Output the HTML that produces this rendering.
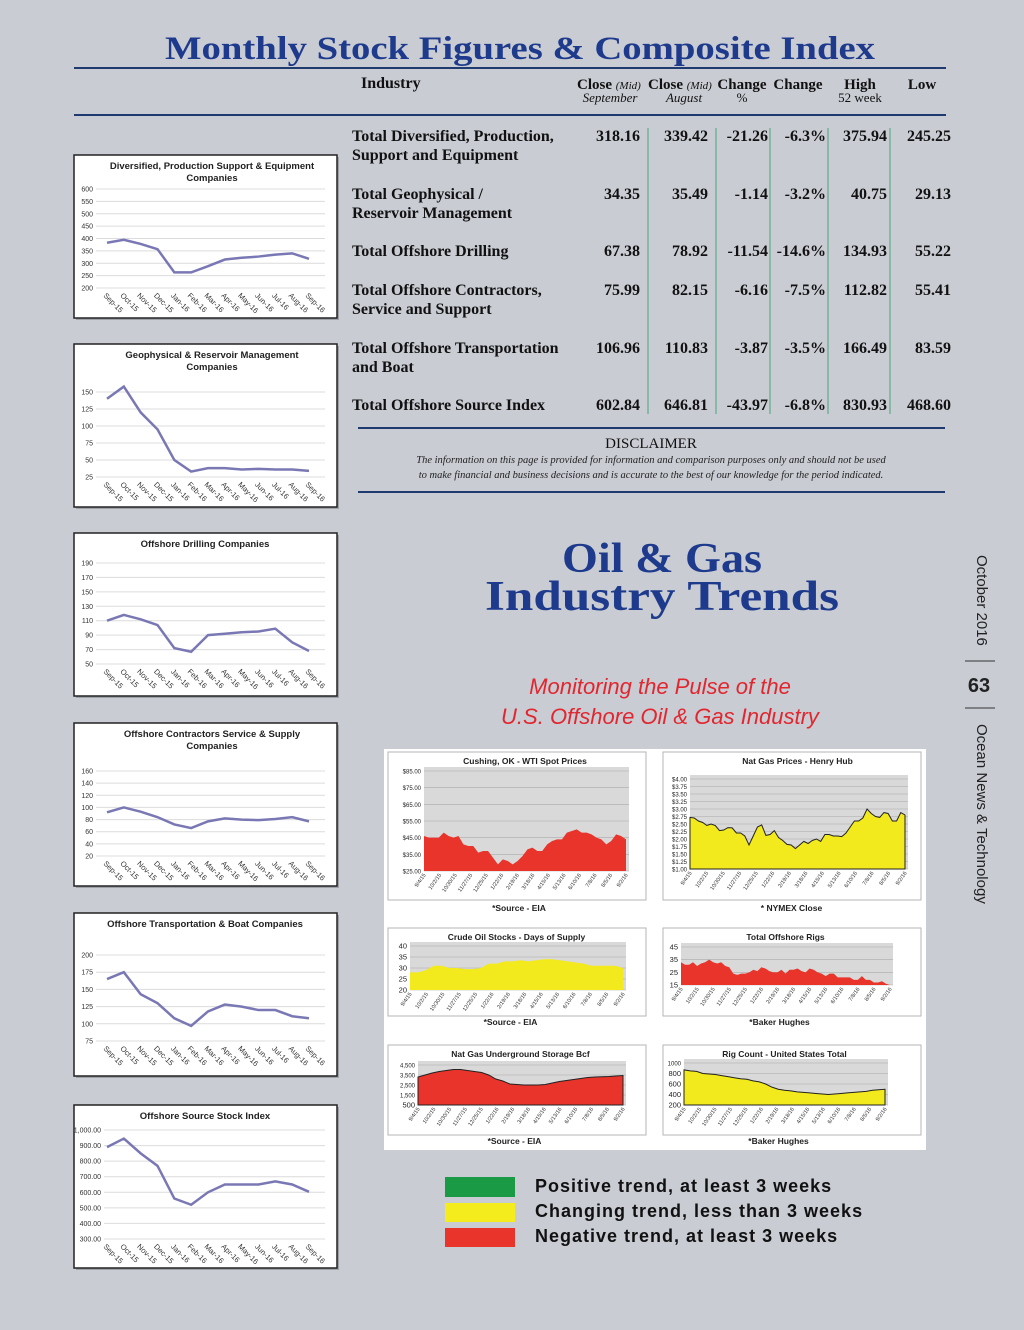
<!DOCTYPE html>
<html><head><meta charset="utf-8"><style>
body{margin:0;background:#c9ccd3;}
svg{display:block;font-family:"Liberation Sans",sans-serif;}
.serif{font-family:"Liberation Serif",serif;}
</style></head><body>
<svg id="page" width="1024" height="1330" viewBox="0 0 1024 1330" xmlns="http://www.w3.org/2000/svg">
<rect width="1024" height="1330" fill="#c9ccd3"/>
<text class="serif" x="520" y="59" text-anchor="middle" font-size="33" font-weight="bold" fill="#1e3a8c" textLength="710" lengthAdjust="spacingAndGlyphs">Monthly Stock Figures &amp; Composite Index</text>
<line x1="74" y1="68" x2="946" y2="68" stroke="#1e3a6e" stroke-width="2"/>
<line x1="74" y1="115" x2="946" y2="115" stroke="#1e3a6e" stroke-width="2"/>
<g class="serif" fill="#111">
<text x="361" y="88" font-size="16" font-weight="bold">Industry</text>
<text x="577" y="89" font-size="15" font-weight="bold">Close <tspan font-size="11" font-style="italic" font-weight="normal">(Mid)</tspan></text>
<text x="610" y="102" font-size="13" font-style="italic" text-anchor="middle">September</text>
<text x="648" y="89" font-size="15" font-weight="bold">Close <tspan font-size="11" font-style="italic" font-weight="normal">(Mid)</tspan></text>
<text x="684" y="102" font-size="13" font-style="italic" text-anchor="middle">August</text>
<text x="742" y="89" font-size="15" font-weight="bold" text-anchor="middle">Change</text>
<text x="742" y="102" font-size="13" text-anchor="middle">%</text>
<text x="798" y="89" font-size="15" font-weight="bold" text-anchor="middle">Change</text>
<text x="860" y="89" font-size="15" font-weight="bold" text-anchor="middle">High</text>
<text x="860" y="102" font-size="13" text-anchor="middle">52 week</text>
<text x="922" y="89" font-size="15" font-weight="bold" text-anchor="middle">Low</text>
</g>
<g id="table" class="serif"></g>
<line x1="358" y1="428" x2="945" y2="428" stroke="#1e3a6e" stroke-width="2"/>
<text class="serif" x="651" y="448" text-anchor="middle" font-size="15" fill="#111">DISCLAIMER</text>
<text class="serif" x="651" y="463" text-anchor="middle" font-size="10.5" font-style="italic" fill="#222">The information on this page is provided for information and comparison purposes only and should not be used</text>
<text class="serif" x="651" y="478" text-anchor="middle" font-size="10.5" font-style="italic" fill="#222">to make financial and business decisions and is accurate to the best of our knowledge for the period indicated.</text>
<line x1="358" y1="492" x2="945" y2="492" stroke="#1e3a6e" stroke-width="2"/>
<text class="serif" x="662" y="572" text-anchor="middle" font-size="42" font-weight="bold" fill="#1e3a8c" textLength="200" lengthAdjust="spacingAndGlyphs">Oil &amp; Gas</text>
<text class="serif" x="662" y="610" text-anchor="middle" font-size="42" font-weight="bold" fill="#1e3a8c" textLength="354" lengthAdjust="spacingAndGlyphs">Industry Trends</text>
<text x="660" y="694" text-anchor="middle" font-size="22" font-style="italic" fill="#e2262f">Monitoring the Pulse of the</text>
<text x="660" y="724" text-anchor="middle" font-size="22" font-style="italic" fill="#e2262f">U.S. Offshore Oil &amp; Gas Industry</text>
<text transform="translate(977,555) rotate(90)" font-size="15" fill="#222">October 2016</text>
<line x1="965" y1="661" x2="995" y2="661" stroke="#333"/>
<text x="979" y="692" text-anchor="middle" font-size="20" font-weight="bold" fill="#222">63</text>
<line x1="965" y1="708" x2="995" y2="708" stroke="#333"/>
<text transform="translate(977,724) rotate(90)" font-size="15" fill="#222">Ocean News &amp; Technology</text>
<rect x="384" y="749" width="542" height="401" fill="#fff"/>
<g id="left"></g><g id="right"></g>
<g>
<rect x="445" y="1177" width="70" height="20" fill="#1a9a44"/>
<rect x="445" y="1203" width="70" height="19" fill="#f4ec1c"/>
<rect x="445" y="1228" width="70" height="19" fill="#e8342a"/>
<text x="535" y="1192" font-size="18" font-weight="bold" fill="#111" letter-spacing="1">Positive trend, at least 3 weeks</text>
<text x="535" y="1217" font-size="18" font-weight="bold" fill="#111" letter-spacing="1">Changing trend, less than 3 weeks</text>
<text x="535" y="1242" font-size="18" font-weight="bold" fill="#111" letter-spacing="1">Negative trend, at least 3 weeks</text>
</g>
</svg>
<script>
const NS="http://www.w3.org/2000/svg";
function mk(p,t,a){const e=document.createElementNS(NS,t);for(const k in a)e.setAttribute(k,a[k]);p.appendChild(e);return e;}
function tx(p,s,a){const e=mk(p,'text',a);e.textContent=s;return e;}

// ---- table data ----
const rowNames=[["Total Diversified, Production,","Support and Equipment"],["Total Geophysical /","Reservoir Management"],["Total Offshore Drilling"],["Total Offshore Contractors,","Service and Support"],["Total Offshore Transportation","and Boat"],["Total Offshore Source Index"]];
const closeSep=["318.16","34.35","67.38","75.99","106.96","602.84"];
const closeAug=["339.42","35.49","78.92","82.15","110.83","646.81"];
const chg=["-21.26","-1.14","-11.54","-6.16","-3.87","-43.97"];
const chgPct=["-6.3%","-3.2%","-14.6%","-7.5%","-3.5%","-6.8%"];
const hi52=["375.94","40.75","134.93","112.82","166.49","830.93"];
const lo52=["245.25","29.13","55.22","55.41","83.59","468.60"];
const tg=document.getElementById('table');
const rowY=[141,199,256,295,353,410];
const colR=[640,708,768,826,887,951];
const cols=[closeSep,closeAug,chg,chgPct,hi52,lo52];
rowNames.forEach((n,i)=>{
  const r=mk(tg,'g',{});
  
  
  n.forEach((l,j)=>tx(r,l,{x:352,y:rowY[i]+j*19,'font-size':16,'font-weight':'bold',fill:'#111'}));
  cols.forEach((c,k)=>tx(r,c[i],{x:colR[k],y:rowY[i],'font-size':16,'font-weight':'bold',fill:'#111','text-anchor':'end'}));
});
[648,716,770,828,890].forEach(x=>mk(tg,'line',{x1:x,y1:128,x2:x,y2:414,stroke:'#4aa37a','stroke-width':1}));

// ---- left line charts ----
const months=["Sep-15","Oct-15","Nov-15","Dec-15","Jan-16","Feb-16","Mar-16","Apr-16","May-16","Jun-16","Jul-16","Aug-16","Sep-16"];
const divTicks=[600,550,500,450,400,350,300,250,200];
const divVals=[383,395,378,357,263,263,288,315,322,327,335,340,318];
const geoTicks=[150,125,100,75,50,25];
const geoVals=[140,158,120,95,50,33,38,38,36,37,36,36,34];
const drlTicks=[190,170,150,130,110,90,70,50];
const drlVals=[110,118,112,104,72,67,90,92,94,95,99,80,68];
const conTicks=[160,140,120,100,80,60,40,20];
const conVals=[92,100,93,84,72,66,77,82,80,79,81,84,77];
const trnTicks=[200,175,150,125,100,75];
const trnVals=[165,175,143,130,108,97,118,128,125,120,120,111,108];
const srcTicks=[1000,900,800,700,600,500,400,300];
const srcLabels=["1,000.00","900.00","800.00","700.00","600.00","500.00","400.00","300.00"];
const srcVals=[890,945,850,770,560,520,600,650,650,650,670,650,603];

const L=document.getElementById('left');
function lineChart(name,by,titles,ticks,labels,vals,t0,t1){
  const g=mk(L,'g',{});
  
  
  mk(g,'rect',{x:76,y:by+2,width:263,height:163,fill:'#9ea2a8'});
  mk(g,'rect',{x:74,y:by,width:263,height:163,fill:'#fff',stroke:'#222','stroke-width':1.5});
  titles.forEach((t,i)=>tx(g,t,{x:titles.length>1?212:205,y:by+14+i*12,'text-anchor':'middle','font-size':9.5,'font-weight':'bold',fill:'#222'}));
  const top=by+t0,bot=by+t1,vmax=ticks[0],vmin=ticks[ticks.length-1];
  const y=v=>bot-(v-vmin)/(vmax-vmin)*(bot-top);
  const x=i=>74+33+i*(202/12);
  const lx=labels[0].length>5?104:96;
  ticks.forEach((t,i)=>{
    mk(g,'line',{x1:lx,y1:y(t),x2:325,y2:y(t),stroke:'#dcdcdc','stroke-width':1});
    tx(g,labels[i],{x:lx-3,y:y(t)+2.5,'font-size':7,fill:'#333','text-anchor':'end'});
  });
  const p=mk(g,'polyline',{points:vals.map((v,i)=>x(i)+','+y(v)).join(' '),fill:'none',stroke:'#7a78b4','stroke-width':2.5});
  
  
  months.forEach((m,i)=>tx(g,m,{transform:`translate(${x(i)-4},${bot+8}) rotate(45)`,'font-size':7.5,fill:'#333'}));
}
lineChart('chart-diversified',155,["Diversified, Production Support & Equipment","Companies"],divTicks,divTicks.map(String),divVals,34,133);
lineChart('chart-geophysical',344,["Geophysical & Reservoir Management","Companies"],geoTicks,geoTicks.map(String),geoVals,48,133);
lineChart('chart-drilling',533,["Offshore Drilling Companies"],drlTicks,drlTicks.map(String),drlVals,30,131);
lineChart('chart-contractors',723,["Offshore Contractors Service & Supply","Companies"],conTicks,conTicks.map(String),conVals,48,133);
lineChart('chart-transportation',913,["Offshore Transportation & Boat Companies"],trnTicks,trnTicks.map(String),trnVals,42,128);
lineChart('chart-source-index',1105,["Offshore Source Stock Index"],srcTicks,srcLabels,srcVals,25,134);

// ---- right area charts ----
const dates=["9/4/15","10/2/15","10/30/15","11/27/15","12/25/15","1/22/16","2/19/16","3/18/16","4/15/16","5/13/16","6/10/16","7/8/16","8/5/16","9/2/16"];
const wtiTicks=[85,75,65,55,45,35,25];
const wtiVals=[46,45,45,45,48,46,45,46,41,40,40,36,37,37,33,29,32,31,29,31,34,38,39,37,37,41,43,44,44,48,49,50,48,48,47,45,44,41,43,47,46,44];
const gasTicks=[4,3.75,3.5,3.25,3,2.75,2.5,2.25,2,1.75,1.5,1.25,1];
const gasVals=[2.72,2.7,2.6,2.55,2.45,2.5,2.45,2.28,2.3,2.38,2.37,2.2,2.2,2.1,1.8,2.1,2.4,2.47,2.12,2.15,2.28,2.05,1.95,1.82,1.8,1.68,1.8,1.92,1.85,1.95,2.0,1.92,2.15,2.15,2.1,2.1,2.08,2.2,2.4,2.6,2.6,2.7,3.0,2.85,2.75,2.72,2.88,2.85,2.6,2.6,2.88,2.8];
const crudeTicks=[40,35,30,25,20];
const crudeVals=[28,28,29,31,31,30,30,29.5,29.5,30,32,32,33,33,33.5,33,33.5,34,34,33.5,33,32.5,32,31,31,31,31,30];
const rigTicks=[45,35,25,15];
const rigVals=[33,31,31,33,30,32,33,35,33,32,33,30,29,24,23,24,24,25,27,26,29,28,26,25,25,27,24,27,27,28,26,25,28,27,25,24,22,24,24,21,21,21,21,19,19,22,19,19,17,17,18,16,15];
const storTicks=[4500,3500,2500,1500,500];
const storVals=[3300,3500,3700,3850,3950,4050,4050,3950,3850,3750,3500,3100,2900,2600,2550,2500,2500,2500,2550,2700,2850,2950,3050,3150,3250,3300,3320,3350,3400,3450];
const usTicks=[1000,800,600,400,200];
const usVals=[870,850,840,800,790,780,760,740,720,700,690,660,640,600,540,500,480,470,450,440,430,420,410,400,410,420,430,440,450,460,480,490,500];

const R=document.getElementById('right');
function areaChart(name,px,py,ph,title,ticks,labels,vals,color,x0,x1,top,bot,src,edge){
  const g=mk(R,'g',{});
  
  
  mk(g,'rect',{x:px,y:py,width:258,height:ph,fill:'#fff',stroke:'#b5b5b5','stroke-width':1});
  tx(g,title,{x:(x0+x1)/2,y:py+12,'text-anchor':'middle','font-size':8.5,'font-weight':'bold',fill:'#222'});
  const vmax=ticks[0],vmin=ticks[ticks.length-1];
  const y=v=>bot-(v-vmin)/(vmax-vmin)*(bot-top);
  const x=i=>x0+i*(x1-x0)/(vals.length-1);
  mk(g,'rect',{x:x0,y:top-4,width:x1-x0+3,height:bot-top+4,fill:'#d9d9d9'});
  ticks.forEach((t,i)=>{
    mk(g,'line',{x1:x0,y1:y(t),x2:x1+3,y2:y(t),stroke:'#aaa','stroke-width':0.6});
    tx(g,labels[i],{x:x0-3,y:y(t)+2.5,'font-size':labels[i].length>3?6:7.5,fill:'#222','text-anchor':'end'});
  });
  let d='M'+x0+','+bot+' '+vals.map((v,i)=>'L'+x(i)+','+y(v)).join(' ')+' L'+x1+','+bot+'Z';
  const a=mk(g,'path',{d:d,fill:color,stroke:edge?'#222':'none','stroke-width':1});
  
  
  dates.forEach((dt,i)=>{const xx=x0+i*(x1-x0)/(dates.length-1);
    tx(g,dt,{transform:`translate(${xx+2},${bot+4}) rotate(-55)`,'font-size':5.5,fill:'#333','text-anchor':'end'});});
  tx(g,src,{x:(x0+x1)/2-6,y:py+ph+(ph>100?11:9),'text-anchor':'middle','font-size':8.5,'font-weight':'bold',fill:'#222'});
}
const money=t=>'$'+t.toFixed(2);
areaChart('chart-wti',388,752,148,"Cushing, OK  - WTI Spot Prices",wtiTicks,wtiTicks.map(money),wtiVals,'#e8342a',424,626,771,871,"*Source - EIA",false);
areaChart('chart-natgas',663,752,148,"Nat Gas Prices - Henry Hub",gasTicks,gasTicks.map(money),gasVals,'#f2ea1c',690,905,779,869,"* NYMEX Close",true);
areaChart('chart-crude-stocks',388,928,88,"Crude Oil Stocks - Days of Supply",crudeTicks,crudeTicks.map(String),crudeVals,'#f2ea1c',410,623,946,990,"*Source - EIA",false);
areaChart('chart-offshore-rigs',663,928,88,"Total Offshore Rigs",rigTicks,rigTicks.map(String),rigVals,'#e8342a',681,890,947,985,"*Baker Hughes",false);
areaChart('chart-gas-storage',388,1045,90,"Nat Gas Underground Storage Bcf",storTicks,storTicks.map(t=>t.toLocaleString('en-US')),storVals,'#e8342a',418,623,1065,1105,"*Source - EIA",true);
areaChart('chart-us-rig-count',663,1045,90,"Rig Count - United States Total",usTicks,usTicks.map(String),usVals,'#f2ea1c',684,885,1063,1105,"*Baker Hughes",true);
</script>
</body></html>
